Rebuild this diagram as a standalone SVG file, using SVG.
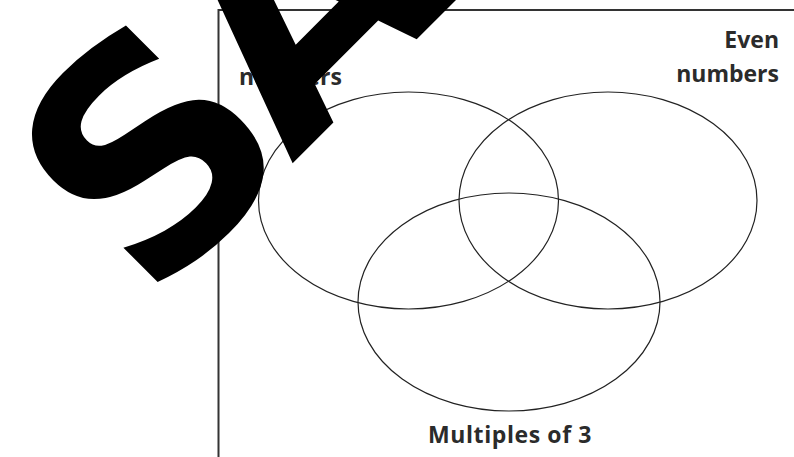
<svg xmlns="http://www.w3.org/2000/svg" width="794" height="457" viewBox="0 0 794 457">
<style>
.frame{fill:none;stroke:#333;stroke-width:2}
.set{fill:none;stroke:#222;stroke-width:1.2}
.lbl{font-family:"Open Sans","DejaVu Sans",sans-serif;font-weight:700;font-size:23px;fill:#2b2b2b}
.wm{font-family:"DejaVu Sans",sans-serif;font-weight:700;font-size:305px;fill:#000}
</style>
<rect width="794" height="457" fill="#fff"/>
<g id="frame"><path class="frame" d="M218.5,457 V10 H794"/></g>
<g id="set-odd"><ellipse class="set" cx="408.5" cy="200.5" rx="150" ry="108.5"/><text class="lbl" x="239" y="85">numbers</text></g>
<g id="set-even"><ellipse class="set" cx="608" cy="200.5" rx="149" ry="108.5"/><text class="lbl" x="779" y="48" text-anchor="end">Even</text><text class="lbl" x="779" y="82" text-anchor="end">numbers</text></g>
<g id="set-mult3"><ellipse class="set" cx="509" cy="302" rx="151" ry="109"/><text class="lbl" x="510" y="443" text-anchor="middle" letter-spacing="0.6">Multiples of 3</text></g>
<g id="watermark"><text class="wm" transform="translate(149,307) rotate(-45)" letter-spacing="-18">SA</text></g>
</svg>
